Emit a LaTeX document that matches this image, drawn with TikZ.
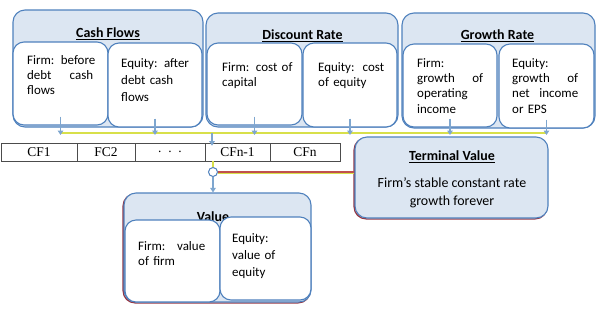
\documentclass[tikz,border=0pt]{standalone}
\usepackage{fontspec}
\setmainfont{Carlito}
\newfontfamily\tnr{Liberation Serif}
\usetikzlibrary{fit,arrows.meta}
\definecolor{boxfill}{HTML}{DCE6F2}
\definecolor{boxline}{HTML}{4F81BD}
\definecolor{arrowblue}{HTML}{7EA6CF}
\definecolor{busdark}{HTML}{2A3408}
\definecolor{busyel}{HTML}{D8E04A}
\definecolor{shadowred}{HTML}{953745}
\definecolor{linkred}{HTML}{C0504D}
\newcommand{\jl}[2][66bp]{\leavevmode\hbox to #1{#2}}
\tikzset{
  outerbox/.style={draw=boxline, fill=boxfill, line width=1.1bp, rounded corners=12bp, inner sep=0pt},
  innerbox/.style={draw=boxline, fill=white, line width=1.1bp, rounded corners=11bp, inner sep=0pt},
  redfringe/.style={preaction={draw=shadowred, line width=1.3bp, transform canvas={shift={(-0.9bp,-0.9bp)}}}},
  ttl/.style={font=\fontsize{14}{16}\selectfont\bfseries, anchor=base, inner sep=0pt},
  body/.style={font=\fontsize{13}{#1}\selectfont, anchor=base west, inner sep=0pt, align=left, text width=84bp},
  body/.default=15,
  tvbody/.style={font=\fontsize{14}{18}\selectfont, anchor=base, inner sep=0pt, align=center},
  cell/.style={draw=black!70, line width=0.6bp, inner sep=0pt},
  celltxt/.style={font=\tnr\fontsize{13.5}{15}\selectfont},
  arr/.style={draw=arrowblue, line width=1.2bp, -{Triangle[width=5.5bp,length=4.5bp]}},
  busline/.style={draw=busdark, line width=0.6bp, double=busyel, double distance=1.1bp},
}
\begin{document}
\begin{tikzpicture}[x=1bp,y=-1bp]
\useasboundingbox (0,0) rectangle (604,312);
% ---------- Cash Flows ----------
\node[outerbox, fit={(13,10) (203,127)}] (cf) {};
\node[ttl] (cft) at (108,37.5) {\underline{Cash Flows}};
\node[innerbox, fit={(13,42) (108,125)}] (cff) {};
\node[innerbox, fit={(108,43) (202,127)}] (cfe) {};
\node[body] (cfftx) at (27,64.5) {Firm: before\\ \jl{debt\hfill cash}\\ flows};
\node[body=17] (cfetx) at (121,67.5) {Equity: after\\ debt cash\\ flows};
% ---------- Discount Rate ----------
\node[outerbox, fit={(206,13) (398,127)}] (dr) {};
\node[ttl] (drt) at (302.5,39.5) {\underline{Discount Rate}};
\node[innerbox, fit={(207,43) (302,125)}] (drf) {};
\node[innerbox, fit={(303,43) (397,127)}] (dre) {};
\node[body=16] (drftx) at (222,71) {Firm: cost of\\ capital};
\node[body=16] (dretx) at (318,71) {\jl{Equity:\hfill cost}\\ of equity};
% ---------- Growth Rate ----------
\node[outerbox, fit={(402,13) (595,128)}] (gr) {};
\node[ttl] (grt) at (497.5,39.5) {\underline{Growth Rate}};
\node[innerbox, fit={(403,44) (497,127)}] (grf) {};
\node[innerbox, fit={(499,44) (594,128)}] (gre) {};
\node[body=15.3] (grftx) at (417,67.5) {Firm:\\ \jl{growth\hfill of}\\ operating\\ income};
\node[body=15.3] (gretx) at (512,67.5) {Equity:\\ \jl{growth\hfill of}\\ \jl{net\hfill income}\\ or EPS};
% ---------- bus ----------
\coordinate (busL) at (60.5,133);
\coordinate (busR) at (546.5,133);
\coordinate (tipy) at (0,135);
\draw[busline] (busL) -- (busR);
\foreach \b in {cff,cfe,drf,dre,grf,gre}
  \draw[arr] ([yshift=9bp]\b.south) -- (\b.south |- tipy);
% ---------- cash flow row ----------
\node[cell, fit={(1,143) (77,161)}, label={[celltxt]center:CF1}] (c1) {};
\node[cell, fit={(77,143) (135,161)}, label={[celltxt]center:FC2}] (c2) {};
\node[cell, fit={(135,143) (205,161)}, label={[celltxt]center:.\ \ .\ \ .}] (c3) {};
\node[cell, fit={(205,143) (270,161)}, label={[celltxt]center:CFn-1}] (c4) {};
\node[cell, fit={(270,143) (340,161)}, label={[celltxt]center:CFn}] (c5) {};
\coordinate (drop) at (212,133);
\draw[arr] (drop) -- ([yshift=-3bp]drop |- c4.north);
% ---------- Terminal Value ----------
\node[outerbox, redfringe, fit={(355,137) (548,218)}] (tv) {};
\node[ttl] (tvt) at (452,160.5) {\underline{Terminal Value}};
\node[tvbody] (tvb1) at (452,187.5) {Firm’s stable constant rate};
\node[tvbody] (tvb2) at (452,205.5) {growth forever};
% ---------- junction ----------
\node[circle, draw=boxline, fill=white, line width=1bp, minimum size=9bp, inner sep=0pt] (junc) at (213,172) {};
\draw[busline] (junc.north) -- (junc.north |- c4.south);
\draw[draw=busyel, line width=0.8bp] ([yshift=-1.2bp]junc.east) -- ([yshift=-1.2bp]junc.east -| tv.west);
\draw[draw=linkred, line width=1.1bp] (junc.east) -- (junc.east -| tv.west);
% ---------- Value ----------
\node[outerbox, redfringe, fit={(124,193) (311,302)}] (val) {};
\draw[arr] (junc.south) -- (junc.south |- val.north);
\node[ttl] (valt) at (213,221) {Value};
\node[innerbox, fit={(125,220) (220,302)}] (valf) {};
\node[innerbox, fit={(220,217) (311,300)}] (vale) {};
\node[body] (valftx) at (138,250.5) {\jl[67bp]{Firm:\hfill value}\\ of firm};
\node[body=17] (valetx) at (232,242.5) {Equity:\\ value of\\ equity};
\end{tikzpicture}
\end{document}
